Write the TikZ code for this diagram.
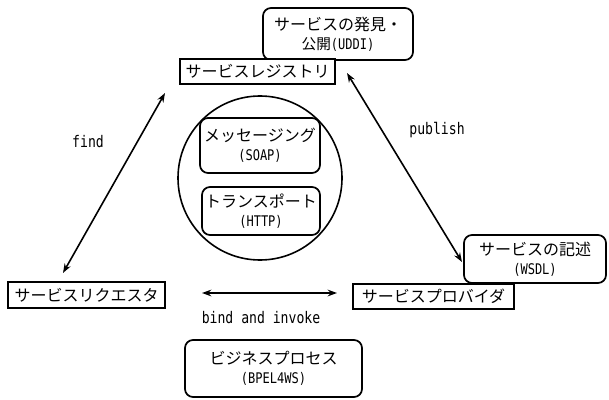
\documentclass[tikz,border=0pt]{standalone}
\usepackage{fontspec}
\usetikzlibrary{arrows.meta,shapes.geometric}
\newfontfamily\cjk{Noto Sans CJK JP}
\newfontfamily\hw[FakeStretch=0.82]{DejaVu Sans Mono}
\tikzset{
  rbox/.style={draw, line width=1.3pt, rounded corners=6pt, fill=white, inner sep=0pt, align=center,
    font=\fontsize{12}{14}\selectfont},
  sbox/.style={draw, line width=1.5pt, fill=white, inner sep=0pt, align=center,
    font=\cjk\fontsize{12}{14}\selectfont},
  lbl/.style={font=\hw\fontsize{12}{14}\selectfont, inner sep=0pt},
  conn/.style={line width=1.2pt, {Stealth[length=7pt,width=5pt]}-{Stealth[length=7pt,width=5pt]}},
}
\newcommand{\subl}[1]{{\hw\fontsize{11}{14}\selectfont #1}}
\begin{document}
\begin{tikzpicture}[x=0.75pt,y=-0.75pt]
\useasboundingbox (0,0) rectangle (609,399);
% top discovery box and registry
\node[rbox, minimum width=112.5pt, minimum height=39pt] (uddi) at (338,34)
  {{\cjk サービスの発見・}\\{\cjk\fontsize{11}{14}\selectfont 公開}\subl{(UDDI)}};
\node[sbox, minimum width=116.25pt, minimum height=18.75pt] (reg) at (257.5,71.5) {サービスレジストリ};
% circle with protocol boxes
\node[draw, circle, line width=1.2pt, minimum size=123pt, inner sep=0pt] (core) at (260,178) {};
\node[rbox, minimum width=90pt, minimum height=41.25pt] (msg) at (260,145.5)
  {{\cjk メッセージング}\\\subl{(SOAP)}};
\node[rbox, minimum width=88.5pt, minimum height=36pt] (trans) at (261,211)
  {{\cjk トランスポート}\\\subl{(HTTP)}};
% requester, provider
\node[sbox, minimum width=117.75pt, minimum height=19.5pt] (req) at (86.5,295) {サービスリクエスタ};
\node[rbox, minimum width=106.5pt, minimum height=36pt] (wsdl) at (535,259)
  {{\cjk サービスの記述}\\\subl{(WSDL)}};
\node[sbox, minimum width=120.75pt, minimum height=18.75pt] (prov) at (433.5,296.5) {サービスプロバイダ};
% business process
\node[rbox, minimum width=132.75pt, minimum height=42.75pt] (bpel) at (273.5,368.5)
  {{\cjk ビジネスプロセス}\\\subl{(BPEL4WS)}};
% connector end points
\coordinate (f1) at (165,93);
\coordinate (f2) at (63,273);
\coordinate (p1) at (347,73);
\coordinate (p2) at (462,262);
\coordinate (b1) at (202,293);
\coordinate (b2) at (337,293);
\draw[conn] (f1) -- (f2);
\draw[conn] (p1) -- (p2);
\draw[conn] (b1) -- (b2);
\node[lbl] (findl) at (88,142) {find};
\node[lbl] (publ) at (437,130) {publish};
\node[lbl] (bindl) at (261,318) {bind and invoke};
\end{tikzpicture}
\end{document}
